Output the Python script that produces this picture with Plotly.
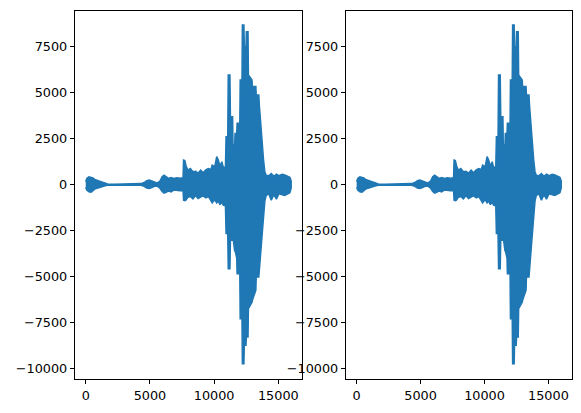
import plotly.graph_objects as go
from plotly.subplots import make_subplots

# envelope of the waveform (sample index, upper, lower)
sample_idx = [0, 80, 250, 420, 560, 700, 850, 1050, 1250, 1500, 1700, 2200, 2900, 3300,
              3800, 4300, 4550, 4750, 4950, 5150, 5300, 5550, 5780, 5950, 6100, 6250,
              6450, 6650, 6850, 7100, 7350, 7580, 7620, 7720, 7800, 7950, 8150, 8350,
              8550, 8750, 8950, 9150, 9350, 9550, 9750, 9850, 10050, 10200, 10320,
              10460, 10600, 10700, 10880, 10930, 11060, 11100, 11230, 11270, 11440,
              11470, 11600, 11630, 11760, 11790, 12000, 12030, 12170, 12200, 12320,
              12350, 12480, 12510, 12640, 12670, 12950, 12980, 13250, 13280, 13480,
              13520, 13650, 13780, 13850, 13950, 14050, 14250, 14450, 14650, 14850,
              15050, 15300, 15500, 15700, 15900, 16000]
upper = [150, 330, 420, 400, 360, 280, 230, 190, 140, 80, 35, 20, 25, 45,
         60, 50, 110, 210, 240, 190, 110, 80, 190, 420, 510, 450,
         330, 380, 330, 370, 340, 370, 1330, 1300, 1050, 780, 870, 700,
         720, 620, 780, 640, 800, 870, 820, 1060, 980, 1520, 1350,
         1000, 1240, 970, 900, 2600, 2600, 5960, 5960, 3690, 3690,
         2150, 2150, 2780, 2780, 3330, 3330, 5690, 5690, 8690, 8690,
         7500, 7500, 8320, 8320, 5960, 5690, 5330, 5330, 4870, 4870,
         4330, 3000, 2000, 1330, 700, 500, 480, 600, 450, 560,
         480, 560, 520, 480, 400, 200]
lower = [-150, -300, -400, -420, -340, -250, -200, -170, -120, -70, -35, -20, -25, -40,
         -55, -45, -100, -190, -220, -170, -110, -80, -200, -380, -470, -420,
         -350, -400, -300, -330, -340, -330, -850, -880, -850, -700, -650, -780,
         -600, -760, -680, -620, -720, -650, -900, -1000, -820, -1000, -900,
         -1100, -900, -1120, -1150, -2670, -2670, -4580, -4580, -3030, -3030,
         -2900, -3600, -3600, -4000, -4850, -4850, -7300, -7300, -9750, -9750,
         -8750, -8750, -8300, -8300, -6760, -6400, -6300, -5750, -5030, -5030,
         -4480, -3400, -2400, -1760, -900, -600, -500, -850, -550, -800,
         -500, -560, -600, -520, -450, -200]

x_ticks = [0, 5000, 10000, 15000]
x_labels = ["0", "5000", "10000", "15000"]
y_ticks = [-10000, -7500, -5000, -2500, 0, 2500, 5000, 7500]
y_labels = ["\u221210000", "\u22127500", "\u22125000", "\u22122500", "0", "2500", "5000", "7500"]

fig = make_subplots(rows=1, cols=2)

poly_x = sample_idx + sample_idx[::-1]
poly_y = upper + lower[::-1]
for col in (1, 2):
    fig.add_trace(go.Scatter(x=poly_x, y=poly_y, mode="lines", fill="toself",
                             fillcolor="#1f77b4", line=dict(color="#1f77b4", width=1.5),
                             showlegend=False, hoverinfo="skip"), row=1, col=col)

axis_style = dict(showline=True, mirror=True, linecolor="black", linewidth=1,
                  ticks="outside", ticklen=4.5, tickwidth=1, tickcolor="black",
                  showgrid=False, zeroline=False,
                  tickfont=dict(family="DejaVu Sans", size=12.8, color="black"))

fig.update_xaxes(range=[-810, 16822], tickvals=x_ticks, ticktext=x_labels, **axis_style)
fig.update_yaxes(range=[-10583, 9461], tickvals=y_ticks, ticktext=y_labels, **axis_style)

# page body has an 8px margin, so the figure is 8px smaller each way
fig.update_layout(
    width=573, height=405,
    margin=dict(l=0, r=0, t=0, b=0),
    paper_bgcolor="white", plot_bgcolor="white",
    xaxis=dict(domain=[0.1175, 0.5126]),
    xaxis2=dict(domain=[0.5904, 0.9838]),
    yaxis=dict(domain=[0.0840, 0.9933]),
    yaxis2=dict(domain=[0.0840, 0.9933]),
)

fig.write_html("out.html")
